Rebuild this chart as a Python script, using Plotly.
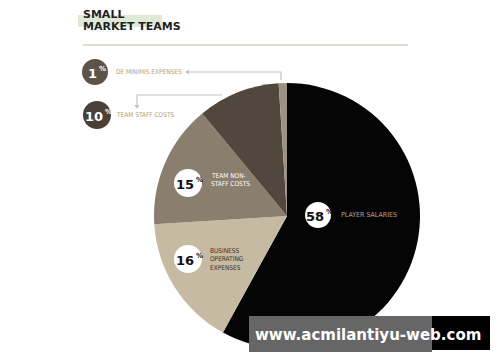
import plotly.graph_objects as go

W, H = 500, 362
categories = ["PLAYER SALARIES", "BUSINESS OPERATING EXPENSES", "TEAM NON-STAFF COSTS",
              "TEAM STAFF COSTS", "DE MINIMIS EXPENSES"]
values = [58, 16, 15, 10, 1]
colors = ["#060505", "#c6baa3", "#8a7f6f", "#51473d", "#9b9384"]

def px(x):
    return x / W

def py(y):
    return 1 - y / H

FONT = "Liberation Sans Narrow, DejaVu Sans Condensed, Arial Narrow, sans-serif"

fig = go.Figure(go.Pie(
    labels=categories, values=values, sort=False, direction="clockwise", rotation=0,
    marker=dict(colors=colors, line=dict(width=0)), textinfo="none", hoverinfo="label+percent",
    domain=dict(x=[px(154), px(420)], y=[py(349), py(83)]), showlegend=False,
))

shapes = []
ann = []

def text(x, y, t, size, color, family="DejaVu Sans, sans-serif", weight="normal",
         xanchor="left", yanchor="middle"):
    ann.append(dict(x=px(x), y=py(y), xref="paper", yref="paper", showarrow=False, text=t,
                    xanchor=xanchor, yanchor=yanchor, align="left", borderpad=0,
                    font=dict(family=family, size=size, color=color, weight=weight)))

# title highlight and rule
shapes.append(dict(type="rect", xref="paper", yref="paper", x0=px(78), x1=px(162), y0=py(27), y1=py(15),
                   fillcolor="#dfe9d8", line=dict(width=0), layer="below"))
text(82, 14, "SMALL", 11, "#1f1f1f", weight="bold")
text(82, 27, "MARKET TEAMS", 11, "#1f1f1f", weight="bold")
shapes.append(dict(type="line", xref="paper", yref="paper", x0=px(83), x1=px(408), y0=py(45), y1=py(45),
                   line=dict(color="#d9d3c6", width=1.5)))

def circle(cx, cy, r, color):
    shapes.append(dict(type="circle", xref="paper", yref="paper", x0=px(cx - r), x1=px(cx + r),
                       y0=py(cy + r), y1=py(cy - r), fillcolor=color, line=dict(width=0)))

def pct(cx, cy, v, color):
    off = 7 if v >= 10 else 3
    text(cx + off, cy + 1, str(v), 13, color, weight="bold", xanchor="right")
    text(cx + off, cy - 3, "%", 7, color, weight="bold", xanchor="left")

def label(x, y, lines, color, size=6.5):
    step = size + 2
    y0 = y - step * (len(lines) - 1) / 2
    for i, ln in enumerate(lines):
        text(x, y0 + i * step, ln, size, color, family=FONT)

# outside labels
circle(95, 72, 13, "#5d5449")
pct(95, 72, values[4], "white")
label(115, 72, ["DE MINIMIS EXPENSES"], "#b69d72")
circle(97, 115, 14, "#4a4037")
pct(97, 115, values[3], "white")
label(115, 115, ["TEAM STAFF COSTS"], "#b69d72")

# leader lines
shapes.append(dict(type="path", xref="paper", yref="paper",
                   path=f"M {px(281)},{py(80)} L {px(281)},{py(72)} L {px(189)},{py(72)}",
                   line=dict(color="#c4c4c4", width=1.2)))
shapes.append(dict(type="path", xref="paper", yref="paper",
                   path=f"M {px(189)},{py(69.5)} L {px(185)},{py(72)} L {px(189)},{py(74.5)} Z",
                   fillcolor="#c4c4c4", line=dict(width=0)))
shapes.append(dict(type="path", xref="paper", yref="paper",
                   path=f"M {px(222)},{py(95)} L {px(137)},{py(95)} L {px(137)},{py(105)}",
                   line=dict(color="#c4c4c4", width=1.2)))
shapes.append(dict(type="path", xref="paper", yref="paper",
                   path=f"M {px(134.5)},{py(105)} L {px(137)},{py(109)} L {px(139.5)},{py(105)} Z",
                   fillcolor="#c4c4c4", line=dict(width=0)))

# inside labels
circle(188, 183, 14, "white")
pct(188, 183, values[2], "#111")
label(210, 180, ["TEAM NON-", "STAFF COSTS"], "#ffffff")
circle(188, 259, 14, "white")
pct(188, 259, values[1], "#111")
label(209, 259, ["BUSINESS", "OPERATING", "EXPENSES"], "#3a3129")
circle(318, 215, 13, "white")
pct(318, 215, values[0], "#111")
label(340, 215, ["PLAYER SALARIES"], "#b3a48c", size=7)

# watermark
shapes.append(dict(type="rect", xref="paper", yref="paper", x0=px(249), x1=px(432), y0=py(352), y1=py(316),
                   fillcolor="#666666", line=dict(width=0)))
shapes.append(dict(type="rect", xref="paper", yref="paper", x0=px(432), x1=px(490), y0=py(350), y1=py(316),
                   fillcolor="#000000", line=dict(width=0)))
text(368, 335, "www.acmilantiyu-web.com", 15, "white", weight="bold", xanchor="center")

fig.update_layout(width=W, height=H, margin=dict(l=0, r=0, t=0, b=0),
                  paper_bgcolor="white", plot_bgcolor="white", shapes=shapes, annotations=ann)
fig.write_html("out.html")
